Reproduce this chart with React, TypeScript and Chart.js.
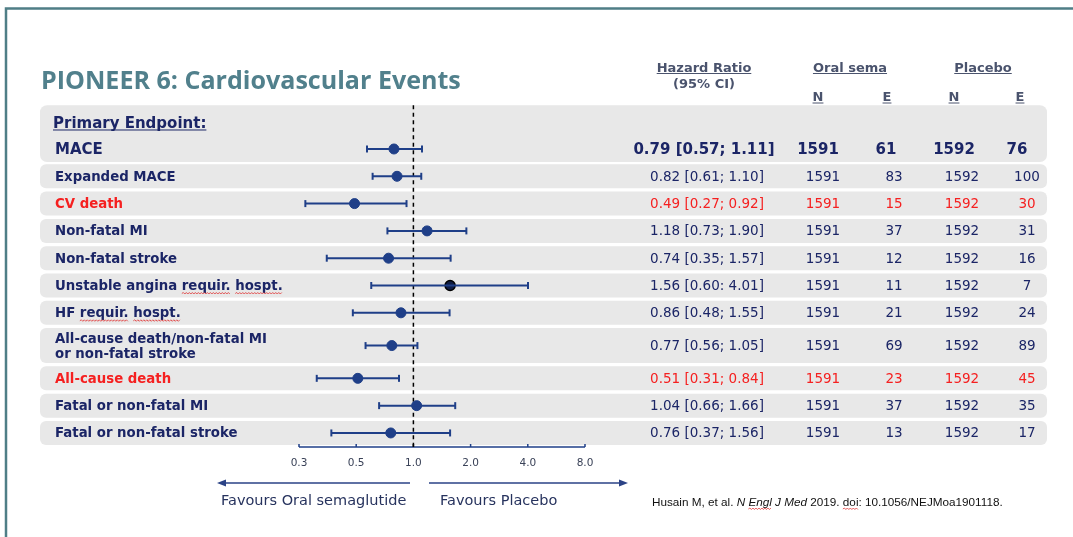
import React, { useEffect, useRef } from "react";
import { Chart, registerables } from "chart.js";

Chart.register(...registerables);

// ---------- DATA ----------
const outcomes = [
  "MACE",
  "Expanded MACE",
  "CV death",
  "Non-fatal MI",
  "Non-fatal stroke",
  "Unstable angina requir. hospt.",
  "HF requir. hospt.",
  "All-cause death/non-fatal MI\nor non-fatal stroke",
  "All-cause death",
  "Fatal or non-fatal MI",
  "Fatal or non-fatal stroke",
];
const hazardRatio = [0.79, 0.82, 0.49, 1.18, 0.74, 1.56, 0.86, 0.77, 0.51, 1.04, 0.76];
const ciLow = [0.57, 0.61, 0.27, 0.73, 0.35, 0.6, 0.48, 0.56, 0.31, 0.66, 0.37];
const ciHigh = [1.11, 1.1, 0.92, 1.9, 1.57, 4.01, 1.55, 1.05, 0.84, 1.66, 1.56];
const hrLabels = [
  "0.79 [0.57; 1.11]",
  "0.82 [0.61; 1.10]",
  "0.49 [0.27; 0.92]",
  "1.18 [0.73; 1.90]",
  "0.74 [0.35; 1.57]",
  "1.56 [0.60: 4.01]",
  "0.86 [0.48; 1.55]",
  "0.77 [0.56; 1.05]",
  "0.51 [0.31; 0.84]",
  "1.04 [0.66; 1.66]",
  "0.76 [0.37; 1.56]",
];
const nOral = [1591, 1591, 1591, 1591, 1591, 1591, 1591, 1591, 1591, 1591, 1591];
const eOral = [61, 83, 15, 37, 12, 11, 21, 69, 23, 37, 13];
const nPlacebo = [1592, 1592, 1592, 1592, 1592, 1592, 1592, 1592, 1592, 1592, 1592];
const ePlacebo = [76, 100, 30, 31, 16, 7, 24, 89, 45, 35, 17];
const highlighted = [false, false, true, false, false, false, false, false, true, false, false];
const xTickValues = [0.25, 0.5, 1, 2, 4, 8];
const xTickLabels = ["0.3", "0.5", "1.0", "2.0", "4.0", "8.0"];

// ---------- STYLE ----------
const NAVY = "#1b2566";
const BAR = "#1f3f88";
const RED = "#f52020";
const BOX = "#e8e8e8";
const HEAD = "#4a536d";
const TITLE = "#51808c";
const FRAME = "#4f7e86";
const FONT = '"DejaVu Sans", Verdana, sans-serif';

// row layout (in row units) derived from the number of label lines
const rowSpan = outcomes.map((o) => (o.split("\n").length > 1 ? 1.4 : 1));
const rowCenter: number[] = [];
rowSpan.forEach((s, i) => {
  rowCenter.push(i === 0 ? 0 : rowCenter[i - 1] + (rowSpan[i - 1] + s) / 2);
});
const GAP = 0.12;

function underline(ctx: CanvasRenderingContext2D, text: string, x: number, y: number, align: CanvasTextAlign, off: number) {
  const w = ctx.measureText(text).width;
  let x0 = x;
  if (align === "center") x0 = x - w / 2;
  if (align === "right") x0 = x - w;
  ctx.save();
  ctx.strokeStyle = ctx.fillStyle as string;
  ctx.lineWidth = 1;
  ctx.beginPath();
  ctx.moveTo(x0, y + off);
  ctx.lineTo(x0 + w, y + off);
  ctx.stroke();
  ctx.restore();
}

function wavy(ctx: CanvasRenderingContext2D, x0: number, x1: number, y: number) {
  ctx.save();
  ctx.strokeStyle = "#e03030";
  ctx.lineWidth = 0.8;
  ctx.beginPath();
  let up = true;
  ctx.moveTo(x0, y);
  for (let x = x0 + 1.5; x <= x1; x += 1.5) {
    ctx.lineTo(x, up ? y - 1 : y + 0.5);
    up = !up;
  }
  ctx.stroke();
  ctx.restore();
}

const backgroundPlugin = {
  id: "forestBackground",
  beforeDraw(chart: any) {
    const ctx: CanvasRenderingContext2D = chart.ctx;
    const xs = chart.scales.x;
    const ys = chart.scales.y;
    const W = chart.width;
    const H = chart.height;
    ctx.save();
    ctx.fillStyle = "#ffffff";
    ctx.fillRect(0, 0, W, H);

    // frame
    ctx.strokeStyle = FRAME;
    ctx.lineWidth = 2.5;
    ctx.beginPath();
    ctx.moveTo(6, H);
    ctx.lineTo(6, 8.5);
    ctx.lineTo(W, 8.5);
    ctx.stroke();

    // title
    ctx.fillStyle = TITLE;
    ctx.textBaseline = "alphabetic";
    ctx.textAlign = "left";
    ctx.font = `bold 24px "Open Sans", sans-serif`;
    const tw = ctx.measureText("PIONEER 6: Cardiovascular Events").width;
    const ts = (24 * 420) / tw;
    ctx.font = `bold ${ts}px "Open Sans", sans-serif`;
    ctx.fillText("PIONEER 6: Cardiovascular Events", 41, 89);

    // headers
    ctx.fillStyle = HEAD;
    ctx.textAlign = "center";
    ctx.textBaseline = "alphabetic";
    ctx.font = `bold 13px ${FONT}`;
    ctx.fillText("Hazard Ratio", 704, 72);
    underline(ctx, "Hazard Ratio", 704, 72, "center", 1.5);
    ctx.fillText("(95% CI)", 704, 88);
    ctx.fillText("Oral sema", 850, 72);
    underline(ctx, "Oral sema", 850, 72, "center", 1.5);
    ctx.fillText("Placebo", 983, 72);
    underline(ctx, "Placebo", 983, 72, "center", 1.5);
    const neCols = [818, 887, 954, 1020];
    ["N", "E", "N", "E"].forEach((t, i) => {
      ctx.fillText(t, neCols[i], 101);
      underline(ctx, t, neCols[i], 101, "center", 2);
    });

    // boxes
    ctx.fillStyle = BOX;
    const left = 40;
    const right = 1047;
    const top0 = chart.chartArea.top;
    const bot0 = ys.getPixelForValue(rowCenter[0] + (1 - GAP) / 2) + 1;
    ctx.beginPath();
    ctx.roundRect(left, top0, right - left, bot0 - top0, 7);
    ctx.fill();
    for (let i = 1; i < outcomes.length; i++) {
      const h = (rowSpan[i] - GAP) / 2;
      const t = ys.getPixelForValue(rowCenter[i] - h);
      const b = ys.getPixelForValue(rowCenter[i] + h);
      ctx.beginPath();
      ctx.roundRect(left, t, right - left, b - t, 6);
      ctx.fill();
    }

    // primary endpoint label
    ctx.fillStyle = NAVY;
    ctx.textAlign = "left";
    ctx.textBaseline = "alphabetic";
    ctx.font = `bold 15px ${FONT}`;
    const pY = ys.getPixelForValue(rowCenter[0]) - 21;
    ctx.fillText("Primary Endpoint:", 53, pY);
    underline(ctx, "Primary Endpoint:", 53, pY, "left", 2);

    // rows text
    const labelFont = `bold 13.3px ${FONT}`;
    for (let i = 0; i < outcomes.length; i++) {
      const y = ys.getPixelForValue(rowCenter[i]);
      const primary = i === 0;
      ctx.fillStyle = highlighted[i] ? RED : NAVY;
      ctx.textBaseline = "middle";
      ctx.textAlign = "left";
      ctx.font = primary ? `bold 15px ${FONT}` : labelFont;
      const lines = outcomes[i].split("\n");
      lines.forEach((ln, k) => {
        const ly = y + (k - (lines.length - 1) / 2) * 15;
        ctx.fillText(ln, 55, ly + 1);
      });
      // table
      ctx.textAlign = "center";
      ctx.font = primary ? `bold 15px ${FONT}` : `13.5px ${FONT}`;
      const cols = primary ? [704, 818, 886, 954, 1017] : [707, 823, 894, 962, 1027];
      const vals = [hrLabels[i], String(nOral[i]), String(eOral[i]), String(nPlacebo[i]), String(ePlacebo[i])];
      vals.forEach((v, k) => ctx.fillText(v, cols[k], y + 1));
    }

    // spell-check squiggles (as in the source slide)
    ctx.font = labelFont;
    {
      const y5 = ys.getPixelForValue(rowCenter[5]) + 8;
      const a = ctx.measureText("Unstable angina ").width;
      const b = ctx.measureText("Unstable angina requir.").width;
      const c = ctx.measureText("Unstable angina requir. ").width;
      const d = ctx.measureText("Unstable angina requir. hospt.").width;
      wavy(ctx, 55 + a, 55 + b, y5);
      wavy(ctx, 55 + c, 55 + d, y5);
      const y6 = ys.getPixelForValue(rowCenter[6]) + 8;
      const e = ctx.measureText("HF ").width;
      const f = ctx.measureText("HF requir.").width;
      const g = ctx.measureText("HF requir. ").width;
      const h = ctx.measureText("HF requir. hospt.").width;
      wavy(ctx, 55 + e, 55 + f, y6);
      wavy(ctx, 55 + g, 55 + h, y6);
    }

    // axis
    const axisY = 447;
    const x0 = xs.getPixelForValue(xTickValues[0]);
    const x1 = xs.getPixelForValue(xTickValues[xTickValues.length - 1]);
    ctx.strokeStyle = BAR;
    ctx.lineWidth = 1.5;
    ctx.beginPath();
    ctx.moveTo(x0, axisY);
    ctx.lineTo(x1, axisY);
    ctx.stroke();
    ctx.font = `10.5px ${FONT}`;
    ctx.textAlign = "center";
    ctx.textBaseline = "middle";
    xTickValues.forEach((v, i) => {
      const px = xs.getPixelForValue(v);
      ctx.strokeStyle = v === 1 ? "#000" : BAR;
      ctx.beginPath();
      ctx.moveTo(px, axisY);
      ctx.lineTo(px, axisY - 3);
      ctx.stroke();
      ctx.fillStyle = "#3a4258";
      ctx.fillText(xTickLabels[i], px, 463);
    });

    // arrows
    const arrowY = 483;
    ctx.strokeStyle = "#2b4386";
    ctx.fillStyle = "#2b4386";
    ctx.lineWidth = 1.5;
    ctx.beginPath();
    ctx.moveTo(410, arrowY);
    ctx.lineTo(224, arrowY);
    ctx.moveTo(429, arrowY);
    ctx.lineTo(621, arrowY);
    ctx.stroke();
    ctx.beginPath();
    ctx.moveTo(217, arrowY);
    ctx.lineTo(226, arrowY - 3.5);
    ctx.lineTo(226, arrowY + 3.5);
    ctx.closePath();
    ctx.fill();
    ctx.beginPath();
    ctx.moveTo(628, arrowY);
    ctx.lineTo(619, arrowY - 3.5);
    ctx.lineTo(619, arrowY + 3.5);
    ctx.closePath();
    ctx.fill();

    ctx.fillStyle = "#27335e";
    ctx.font = `14.5px ${FONT}`;
    ctx.textAlign = "left";
    ctx.textBaseline = "middle";
    ctx.fillText("Favours Oral semaglutide", 221, 501);
    ctx.fillText("Favours Placebo", 440, 501);

    // citation
    const citeParts: [string, boolean][] = [
      ["Husain M, et al. ", false],
      ["N Engl J Med", true],
      [" 2019. doi: 10.1056/NEJMoa1901118.", false],
    ];
    const citeFamily = '"Liberation Sans", Arial, sans-serif';
    let total = 0;
    citeParts.forEach(([t, it]) => {
      ctx.font = `${it ? "italic " : ""}11px ${citeFamily}`;
      total += ctx.measureText(t).width;
    });
    const cs = (11 * 351) / total;
    let cx = 652;
    ctx.fillStyle = "#111";
    ctx.textBaseline = "alphabetic";
    const citeY = 506;
    const cxStart: number[] = [];
    citeParts.forEach(([t, it]) => {
      ctx.font = `${it ? "italic " : ""}${cs}px ${citeFamily}`;
      cxStart.push(cx);
      ctx.fillText(t, cx, citeY);
      cx += ctx.measureText(t).width;
    });
    ctx.font = `italic ${cs}px ${citeFamily}`;
    const engA = ctx.measureText("N ").width;
    const engB = ctx.measureText("N Engl").width;
    wavy(ctx, cxStart[1] + engA, cxStart[1] + engB, citeY + 3);
    ctx.font = `${cs}px ${citeFamily}`;
    const doiA = ctx.measureText(" 2019. ").width;
    const doiB = ctx.measureText(" 2019. doi").width;
    wavy(ctx, cxStart[2] + doiA, cxStart[2] + doiB, citeY + 3);

    ctx.restore();
  },
  beforeDatasetDraw(chart: any, args: any) {
    if (args.index !== outcomes.length) return;
    const ctx: CanvasRenderingContext2D = chart.ctx;
    const px = chart.scales.x.getPixelForValue(1);
    ctx.save();
    ctx.strokeStyle = "#000";
    ctx.lineWidth = 1.5;
    ctx.setLineDash([4, 3.5]);
    ctx.beginPath();
    ctx.moveTo(px, chart.chartArea.top);
    ctx.lineTo(px, 447);
    ctx.stroke();
    ctx.restore();
  },
};

export default function App() {
  const ref = useRef<HTMLCanvasElement | null>(null);
  useEffect(() => {
    if (!ref.current) return;
    const ciDatasets = outcomes.map((o, i) => ({
      type: "line" as const,
      label: o,
      data: [
        { x: ciLow[i], y: rowCenter[i] },
        { x: ciHigh[i], y: rowCenter[i] },
      ],
      borderColor: BAR,
      borderWidth: 2,
      pointStyle: "line" as const,
      pointRotation: 90,
      pointRadius: 3.5,
      pointBorderWidth: 2,
      pointBorderColor: BAR,
      fill: false,
      clip: false as const,
    }));
    const pointDataset = {
      type: "scatter" as const,
      label: "Hazard ratio",
      data: hazardRatio.map((v, i) => ({ x: v, y: rowCenter[i] })),
      pointRadius: 5,
      backgroundColor: hazardRatio.map((_, i) => (i === 5 ? "#0f1d45" : BAR)),
      borderColor: hazardRatio.map((_, i) => (i === 5 ? "#000" : BAR)),
      borderWidth: hazardRatio.map((_, i) => (i === 5 ? 1.5 : 1)),
      clip: false as const,
    };
    const last = rowCenter[rowCenter.length - 1];
    const chart = new Chart(ref.current, {
      type: "line",
      data: { datasets: [...ciDatasets, pointDataset] as any },
      options: {
        responsive: false,
        animation: false,
        layout: { padding: { left: 299, right: 488, top: 105.3, bottom: 90.4 } },
        scales: {
          x: { type: "logarithmic", min: xTickValues[0], max: xTickValues[xTickValues.length - 1], display: false },
          y: { type: "linear", min: -1.6, max: last + 0.5, reverse: true, display: false },
        },
        plugins: { legend: { display: false }, tooltip: { enabled: false }, title: { display: false } },
        events: [],
      },
      plugins: [backgroundPlugin],
    });
    return () => chart.destroy();
  }, []);
  return (
    <div style={{ position: "absolute", left: 0, top: 0, width: 1073, height: 537, background: "#fff" }}>
      <canvas ref={ref} width={1073} height={537} style={{ display: "block", width: 1073, height: 537 }} />
    </div>
  );
}
